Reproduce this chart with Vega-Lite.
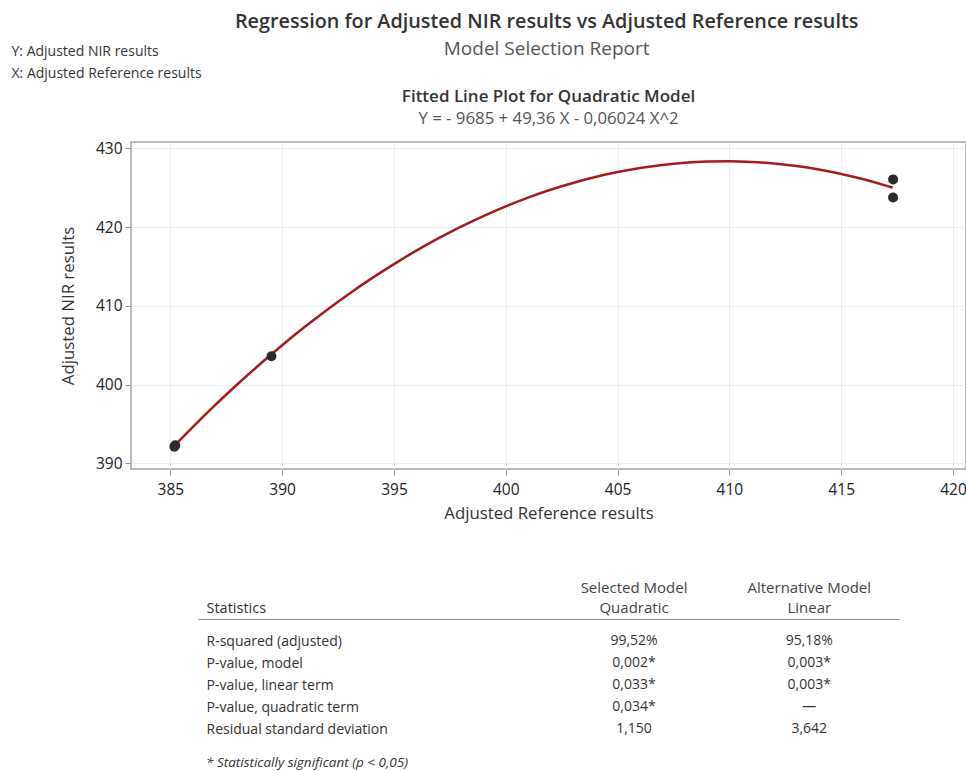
{
  "$schema": "https://vega.github.io/schema/vega-lite/v6.json",
  "background": "white",
  "padding": {"left": 10, "top": 12, "right": 1, "bottom": 0},
  "bounds": "flush",
  "spacing": 150,
  "config": {
    "font": "Open Sans",
    "view": {"stroke": null}
  },
  "title": {
    "text": "Regression for Adjusted NIR results vs Adjusted Reference results",
    "subtitle": "Model Selection Report",
    "anchor": "middle",
    "fontSize": 19.8,
    "fontWeight": 600,
    "color": "#333333",
    "subtitleFontSize": 19,
    "subtitleColor": "#555555",
    "subtitlePadding": 7.5,
    "offset": -15.5,
    "dx": 58
  },
  "datasets": {
    "fit": [
      {"ref": 385.2, "nir": 392.3},
      {"ref": 386, "nir": 394.61},
      {"ref": 387, "nir": 397.38},
      {"ref": 388, "nir": 400.04},
      {"ref": 389, "nir": 402.58},
      {"ref": 390, "nir": 405.0},
      {"ref": 391, "nir": 407.3},
      {"ref": 392, "nir": 409.48},
      {"ref": 393, "nir": 411.54},
      {"ref": 394, "nir": 413.48},
      {"ref": 395, "nir": 415.3},
      {"ref": 396, "nir": 417.01},
      {"ref": 397, "nir": 418.59},
      {"ref": 398, "nir": 420.06},
      {"ref": 399, "nir": 421.4},
      {"ref": 400, "nir": 422.63},
      {"ref": 401, "nir": 423.74},
      {"ref": 402, "nir": 424.73},
      {"ref": 403, "nir": 425.6},
      {"ref": 404, "nir": 426.35},
      {"ref": 405, "nir": 426.98},
      {"ref": 406, "nir": 427.49},
      {"ref": 407, "nir": 427.88},
      {"ref": 408, "nir": 428.16},
      {"ref": 409, "nir": 428.31},
      {"ref": 410, "nir": 428.35},
      {"ref": 411, "nir": 428.26},
      {"ref": 412, "nir": 428.06},
      {"ref": 413, "nir": 427.74},
      {"ref": 414, "nir": 427.3},
      {"ref": 415, "nir": 426.74},
      {"ref": 416, "nir": 426.06},
      {"ref": 417, "nir": 425.26},
      {"ref": 417.3, "nir": 425.0}
    ],
    "obs": [
      {"ref": 385.18, "nir": 392.1},
      {"ref": 385.22, "nir": 392.3},
      {"ref": 389.52, "nir": 403.6},
      {"ref": 417.32, "nir": 426.05},
      {"ref": 417.32, "nir": 423.75}
    ],
    "stats": [
      {"stat": "R-squared (adjusted)", "model": "Selected Model|Quadratic", "value": "99,52%"},
      {"stat": "R-squared (adjusted)", "model": "Alternative Model|Linear", "value": "95,18%"},
      {"stat": "P-value, model", "model": "Selected Model|Quadratic", "value": "0,002*"},
      {"stat": "P-value, model", "model": "Alternative Model|Linear", "value": "0,003*"},
      {"stat": "P-value, linear term", "model": "Selected Model|Quadratic", "value": "0,033*"},
      {"stat": "P-value, linear term", "model": "Alternative Model|Linear", "value": "0,003*"},
      {"stat": "P-value, quadratic term", "model": "Selected Model|Quadratic", "value": "0,034*"},
      {"stat": "P-value, quadratic term", "model": "Alternative Model|Linear", "value": "—"},
      {"stat": "Residual standard deviation", "model": "Selected Model|Quadratic", "value": "1,150"},
      {"stat": "Residual standard deviation", "model": "Alternative Model|Linear", "value": "3,642"}
    ]
  },
  "vconcat": [
    {
      "width": 835,
      "height": 327,
      "view": {"stroke": "#a3a3a3", "strokeWidth": 1.5},
      "title": {
        "text": "Fitted Line Plot for Quadratic Model",
        "subtitle": "Y = - 9685 + 49,36 X - 0,06024 X^2",
        "anchor": "middle",
        "frame": "group",
        "fontSize": 17,
        "fontWeight": 600,
        "color": "#333333",
        "subtitleFontSize": 16.8,
        "subtitleColor": "#555555",
        "subtitlePadding": 5,
        "offset": -85
      },
      "resolve": {"axis": {"x": "independent"}},
      "layer": [
        {
          "data": {"name": "fit"},
          "mark": {"type": "line", "color": "#a31b1f", "strokeWidth": 2.5, "interpolate": "monotone"},
          "encoding": {
            "x": {
              "field": "ref",
              "type": "quantitative",
              "scale": {"domain": [383.24, 420.58], "nice": false, "zero": false},
              "axis": {
                "orient": "bottom",
                "values": [385, 390, 395, 400, 405, 410, 415, 420],
                "title": "Adjusted Reference results",
                "domain": false,
                "grid": true,
                "gridColor": "#ededed",
                "tickColor": "#9a9a9a",
                "tickSize": 6,
                "labelFontSize": 15.5,
                "labelColor": "#222222",
                "labelPadding": 7,
                "titleFontSize": 16.8,
                "titleFontWeight": "normal",
                "titleColor": "#333333",
                "titlePadding": 8
              }
            },
            "y": {
              "field": "nir",
              "type": "quantitative",
              "scale": {"domain": [389.28, 430.8], "nice": false, "zero": false},
              "axis": {
                "values": [390, 400, 410, 420, 430],
                "title": "Adjusted NIR results",
                "domain": false,
                "grid": true,
                "gridColor": "#ededed",
                "tickColor": "#9a9a9a",
                "tickSize": 6,
                "labelFontSize": 15.5,
                "labelColor": "#222222",
                "labelPadding": 3,
                "titleFontSize": 16.8,
                "titleFontWeight": "normal",
                "titleColor": "#333333",
                "titlePadding": 18
              }
            }
          }
        },
        {
          "data": {"name": "obs"},
          "mark": {"type": "circle", "size": 100, "color": "#2b2b2b", "opacity": 1},
          "encoding": {
            "x": {
              "field": "ref",
              "type": "quantitative",
              "axis": {
                "orient": "top",
                "labels": false,
                "ticks": false,
                "domain": false,
                "grid": false,
                "title": ["Y: Adjusted NIR results", "X: Adjusted Reference results"],
                "titleFontSize": 14,
                "titleFontWeight": "normal",
                "titleColor": "#333333",
                "titleAlign": "left",
                "titleAnchor": "start",
                "titleBaseline": "top",
                "titleLineHeight": 22,
                "titleX": -120,
                "titleY": -98
              }
            },
            "y": {"field": "nir", "type": "quantitative"}
          }
        }
      ]
    },
    {
      "width": 835,
      "height": 132,
      "data": {"name": "stats"},
      "title": {
        "text": "* Statistically significant (p < 0,05)",
        "orient": "bottom",
        "anchor": "start",
        "frame": "group",
        "dx": 75,
        "offset": 5,
        "fontSize": 13.5,
        "fontStyle": "italic",
        "fontWeight": "normal",
        "color": "#333333"
      },
      "mark": {"type": "text", "fontSize": 14, "color": "#333333"},
      "encoding": {
        "x": {
          "field": "model",
          "type": "nominal",
          "sort": null,
          "scale": {"type": "band", "range": [67, 768], "paddingInner": 0, "paddingOuter": 1, "align": 0.994},
          "axis": {
            "orient": "top",
            "title": "Statistics",
            "titleX": 75,
            "titleY": -11,
            "titleAlign": "left",
            "titleAnchor": "start",
            "titleBaseline": "middle",
            "titleFontSize": 14.5,
            "titleFontWeight": "normal",
            "titleColor": "#333333",
            "labelExpr": "split(datum.label, '|')",
            "labelFontSize": 15,
            "labelColor": "#444444",
            "labelLineHeight": 19.5,
            "labelBaseline": "bottom",
            "labelPadding": 23.5,
            "labelAngle": 0,
            "labelLimit": 0,
            "ticks": false,
            "tickSize": 0,
            "grid": false,
            "domain": true,
            "domainColor": "#8a8a8a",
            "domainWidth": 1
          }
        },
        "y": {
          "field": "stat",
          "type": "nominal",
          "sort": null,
          "scale": {"type": "point", "padding": 1},
          "axis": {
            "orient": "left",
            "offset": -75,
            "title": null,
            "domain": false,
            "ticks": false,
            "tickSize": 0,
            "grid": false,
            "labelAlign": "left",
            "labelPadding": 0,
            "labelLimit": 0,
            "labelFontSize": 14,
            "labelColor": "#333333"
          }
        },
        "text": {"field": "value"}
      }
    }
  ]
}
